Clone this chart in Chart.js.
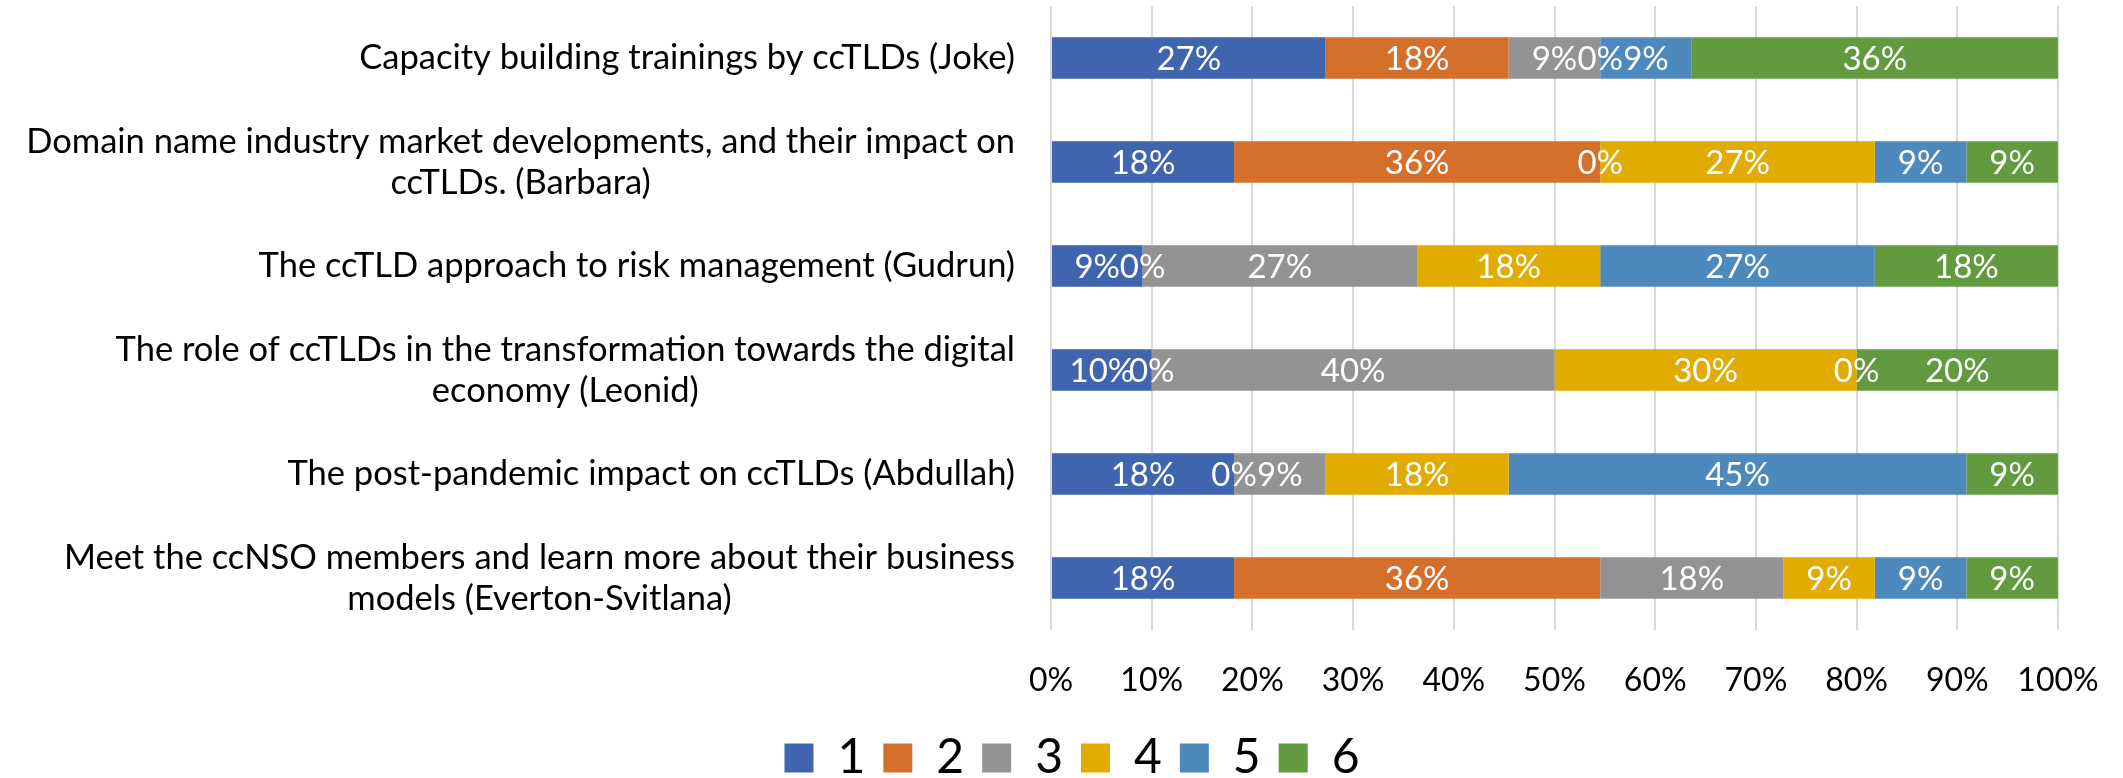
<!DOCTYPE html>
<html>
<head>
<meta charset="utf-8">
<script src="https://cdn.jsdelivr.net/npm/chart.js@4/dist/chart.umd.min.js"></script>
<style>
  html, body { margin: 0; padding: 0; background: #fff; }
  #wrap { width: 2123px; height: 778px; }
</style>
</head>
<body>
<div id="wrap"><canvas id="chart"></canvas></div>
<script>
// session topics, top to bottom (lines as they wrap in the original)
const topics = [
    ["Capacity building trainings by ccTLDs (Joke)"],
    ["Domain name industry market developments, and their impact on", "ccTLDs. (Barbara)"],
    ["The ccTLD approach to risk management (Gudrun)"],
    ["The role of ccTLDs in the transformation towards the digital", "economy (Leonid)"],
    ["The post-pandemic impact on ccTLDs (Abdullah)"],
    ["Meet the ccNSO members and learn more about their business", "models (Everton-Svitlana)"],
];

// share of answers (%) for each rating, one value per topic
const rating1 = [27.27, 18.18, 9.09, 10, 18.18, 18.18];
const rating2 = [18.18, 36.36, 0, 0, 0, 36.36];
const rating3 = [9.09, 0, 27.27, 40, 9.09, 18.18];
const rating4 = [0, 27.27, 18.18, 30, 18.18, 9.09];
const rating5 = [9.09, 9.09, 27.27, 0, 45.45, 9.09];
const rating6 = [36.36, 9.09, 18.18, 20, 9.09, 9.09];

const ratingNames = ["1", "2", "3", "4", "5", "6"];
const ratingColors = ["#3e65ae", "#d4702b", "#939393", "#e2ab00", "#4e89be", "#629a3f"];
const xTicks = [0, 10, 20, 30, 40, 50, 60, 70, 80, 90, 100];

const FONT = "Lato, 'Open Sans', sans-serif";
const PLOT_LEFT = 1051;
const PAD_LEFT = 86;

// white % labels centred in each segment (zero segments too, like Excel)
const segmentLabels = {
    id: 'segmentLabels',
    afterDatasetsDraw(chart) {
        const c = chart.ctx;
        c.save();
        c.font = `33px ${FONT}`;
        c.fillStyle = '#fff';
        c.textAlign = 'center';
        c.textBaseline = 'middle';
        chart.data.datasets.forEach((ds, i) => {
            chart.getDatasetMeta(i).data.forEach((bar, j) => {
                c.fillText(Math.round(ds.data[j]) + '%', (bar.x + bar.base) / 2, bar.y + 1);
            });
        });
        c.restore();
    }
};

// category labels: block right-aligned to the axis, lines centred within it
const topicLabels = {
    id: 'topicLabels',
    afterDraw(chart) {
        const c = chart.ctx;
        const yScale = chart.scales.y;
        const right = chart.chartArea.left - 36;
        const lineH = 41;
        c.save();
        c.font = `34.5px ${FONT}`;
        c.fillStyle = '#000';
        c.textAlign = 'center';
        c.textBaseline = 'middle';
        topics.forEach((lines, i) => {
            const widest = Math.max(...lines.map(l => c.measureText(l).width));
            const cx = right - widest / 2;
            const yc = yScale.getPixelForValue(i);
            lines.forEach((l, k) => {
                c.fillText(l, cx, yc + (k - (lines.length - 1) / 2) * lineH);
            });
        });
        c.restore();
    }
};

const seriesValues = [rating1, rating2, rating3, rating4, rating5, rating6];

new Chart(document.getElementById('chart'), {
    type: 'bar',
    data: {
        labels: topics.map(t => t.join(' ')),
        datasets: seriesValues.map((vals, i) => ({
            label: ratingNames[i],
            data: vals,
            backgroundColor: ratingColors[i],
            borderWidth: 0,
            categoryPercentage: 1,
            barPercentage: 0.4,
        })),
    },
    options: {
        indexAxis: 'y',
        responsive: true,
        maintainAspectRatio: false,
        animation: false,
        layout: { padding: { top: 6, right: 65, left: PAD_LEFT, bottom: -14 } },
        scales: {
            x: {
                stacked: true,
                min: 0,
                max: 100,
                afterBuildTicks: s => { s.ticks = xTicks.map(v => ({ value: v })); },
                afterFit: s => {
                    s.height = 86;
                    // tick padding shouldn't eat into the plot width
                    s.paddingLeft = 0;
                    s.paddingRight = 0;
                },
                ticks: {
                    callback: v => v + '%',
                    color: '#000',
                    font: { family: FONT, size: 32 },
                    padding: 31,
                    maxRotation: 0,
                },
                grid: { color: '#d9d9d9', lineWidth: 2, drawTicks: false },
                border: { display: false },
            },
            y: {
                stacked: true,
                grid: { display: false },
                border: { display: false },
                ticks: { display: false },
                afterFit: s => { s.width = PLOT_LEFT - PAD_LEFT; },
            },
        },
        plugins: {
            legend: {
                position: 'bottom',
                labels: {
                    boxWidth: 29,
                    boxHeight: 29,
                    color: '#000',
                    font: { family: FONT, size: 48 },
                    padding: 18,
                },
            },
            tooltip: { enabled: false },
        },
    },
    plugins: [segmentLabels, topicLabels],
});
</script>
</body>
</html>
